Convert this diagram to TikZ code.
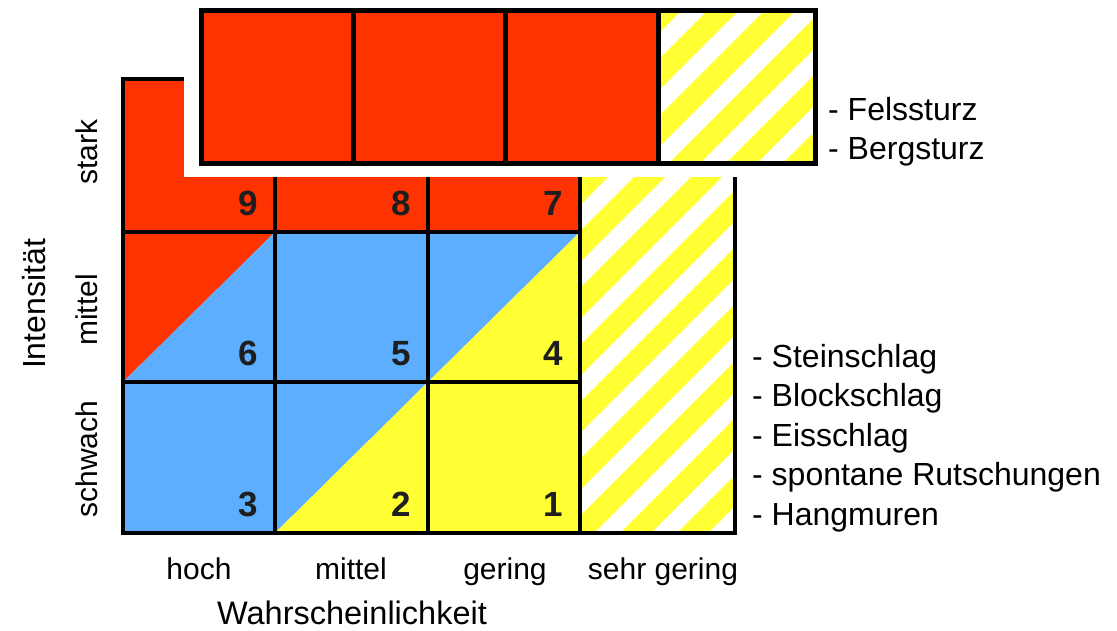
\documentclass[tikz,border=0pt]{standalone}
\usepackage{fontspec}
\setmainfont{Liberation Sans}
\definecolor{rred}{HTML}{FF3300}
\definecolor{rblue}{HTML}{5EAEFF}
\definecolor{ryel}{HTML}{FFFF33}
\definecolor{dgt}{HTML}{1E1E1E}
% #1,#2,#3,#4: rectangle corners, #5: phase shift of the stripes
\newcommand{\stripefill}[5]{%
  \begin{scope}
    \clip (#1,#2) rectangle (#3,#4);
    \fill[white] (#1,#2) rectangle (#3,#4);
    \foreach \k in {-8,...,7}{
      \fill[ryel] (-100,{1082+#5+57*\k}) -- (1300,{-318+#5+57*\k}) -- (1300,{-287+#5+57*\k}) -- (-100,{1113+#5+57*\k}) -- cycle;
    }
  \end{scope}}
\begin{document}
\begin{tikzpicture}[x=1pt,y=-1pt,
  innerline/.style={draw=black,line width=3.5pt},
  hline/.style={draw=black,line width=3.2pt},
  outerline/.style={draw=black,line width=4.5pt},
  boxline/.style={draw=black,line width=5pt},
  digit/.style={font=\fontsize{35}{40}\selectfont\bfseries,text=dgt,inner sep=0pt,anchor=base east},
  lbl/.style={font=\fontsize{30}{36}\selectfont,inner sep=0pt},
  legend/.style={font=\fontsize{32}{38}\selectfont,inner sep=0pt,anchor=base west}]
\useasboundingbox (0,0) rectangle (1117,630);
% --- cell fills
\fill[rred] (123,79) rectangle (580,232);
\fill[rred] (123,232) -- (275,232) -- (123,382) -- cycle;
\fill[rblue] (275,232) -- (275,382) -- (123,382) -- cycle;
\fill[rblue] (275,232) rectangle (428,382);
\fill[rblue] (428,232) -- (580,232) -- (428,382) -- cycle;
\fill[ryel] (580,232) -- (580,382) -- (428,382) -- cycle;
\fill[rblue] (123,382) rectangle (275,533);
\fill[rblue] (275,382) -- (428,382) -- (275,533) -- cycle;
\fill[ryel] (428,382) -- (428,533) -- (275,533) -- cycle;
\fill[ryel] (428,382) rectangle (580,533);
\stripefill{580}{79}{735}{533}{0}
% --- grid lines
\draw[hline] (123,232) -- (580,232);
\draw[hline] (123,382) -- (580,382);
\draw[innerline] (275,79) -- (275,533);
\draw[innerline] (428,79) -- (428,533);
\draw[innerline] (580,79) -- (580,533);
\draw[outerline] (123,79) rectangle (735,533);
% --- white mask behind the top box
\fill[white] (184,-5) rectangle (860,177);
% --- top box
\fill[rred] (201,10) rectangle (658,163);
\stripefill{658}{10}{815}{163}{21}
\draw[boxline] (353,10) -- (353,163);
\draw[boxline] (505,10) -- (505,163);
\draw[boxline] (658,10) -- (658,163);
\draw[boxline] (201,10) rectangle (815,163);
% --- digits
\node[digit] (n9) at (258,215) {9};
\node[digit] (n8) at (411,215) {8};
\node[digit] (n7) at (563,215) {7};
\node[digit] (n6) at (258,365) {6};
\node[digit] (n5) at (411,365) {5};
\node[digit] (n4) at (563,365) {4};
\node[digit] (n3) at (258,516) {3};
\node[digit] (n2) at (411,516) {2};
\node[digit] (n1) at (563,516) {1};
% --- axis labels
\node[lbl,rotate=90] (stark) at (87,152) {stark};
\node[lbl,rotate=90] (mittelI) at (87,310) {mittel};
\node[lbl,rotate=90] (schwach) at (87,459) {schwach};
\node[lbl,rotate=90,font=\fontsize{32}{38}\selectfont] (intens) at (34,304) {Intensität};
\node[lbl,anchor=base] (hoch) at (199,579) {hoch};
\node[lbl,anchor=base] (mittelW) at (351,579) {mittel};
\node[lbl,anchor=base] (gering) at (505,579) {gering};
\node[lbl,anchor=base] (sehr) at (663,579) {sehr gering};
\node[lbl,anchor=base,font=\fontsize{32.5}{38}\selectfont] (wahr) at (352,624) {Wahrscheinlichkeit};
% --- legends
\node[legend] (fels) at (828,120) {- Felssturz};
\node[legend] (berg) at (828,159) {- Bergsturz};
\node[legend] (stein) at (752,367) {- Steinschlag};
\node[legend] (block) at (752,406) {- Blockschlag};
\node[legend] (eis) at (752,446) {- Eisschlag};
\node[legend] (rutsch) at (752,485) {- spontane Rutschungen};
\node[legend] (hang) at (752,525) {- Hangmuren};
\end{tikzpicture}
\end{document}
